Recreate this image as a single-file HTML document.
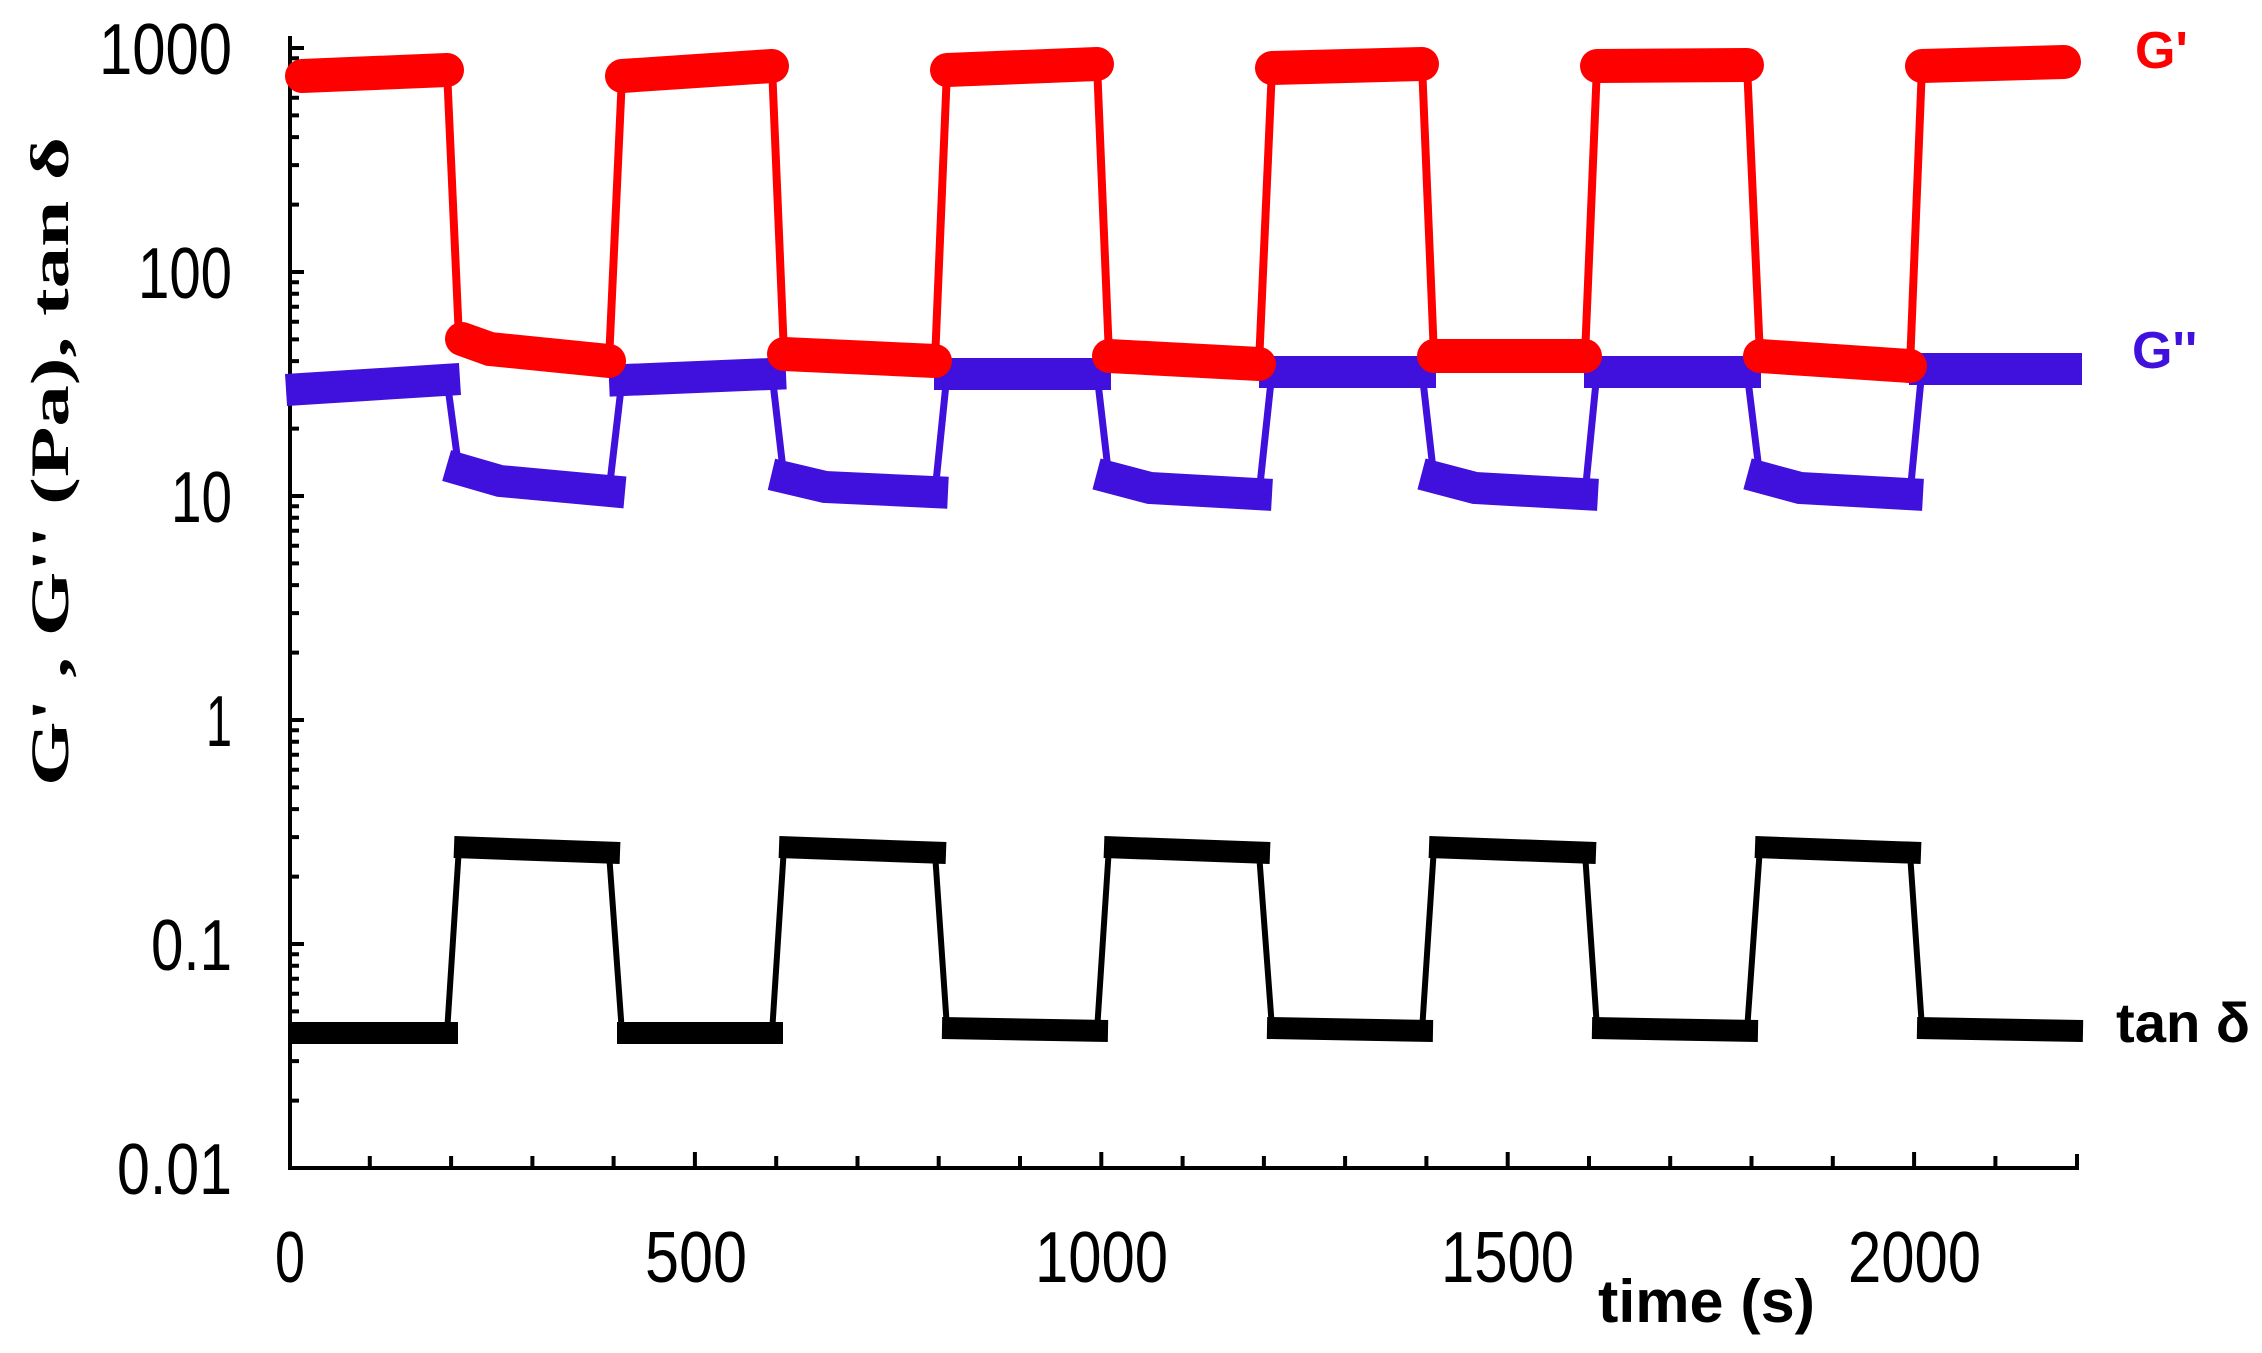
<!DOCTYPE html>
<html><head><meta charset="utf-8"><style>html,body{margin:0;padding:0;background:#fff}svg{display:block}</style></head>
<body>
<svg width="2262" height="1353" viewBox="0 0 2262 1353" xmlns="http://www.w3.org/2000/svg">
<rect width="2262" height="1353" fill="#fff"/>
<g stroke="#000" stroke-width="4" fill="none">
<path d="M290 36 V1168 H2077 V1154"/>
<path d="M369.8 1168v-12M451.1 1168v-12M532.4 1168v-12M613.6 1168v-12M694.9 1168v-16M776.2 1168v-12M857.5 1168v-12M938.7 1168v-12M1020 1168v-12M1101.3 1168v-16M1182.6 1168v-12M1263.9 1168v-12M1345.1 1168v-12M1426.4 1168v-12M1507.7 1168v-16M1589 1168v-12M1670.2 1168v-12M1751.5 1168v-12M1832.8 1168v-12M1914.1 1168v-16M1995.4 1168v-12"/>
<path d="M290 48h14M290 272h14M290 496h14M290 720h14M290 944h14"/>
<path d="M290 1100.6h9M290 1061.1h9M290 1033.1h9M290 1011.4h9M290 993.7h9M290 978.7h9M290 965.7h9M290 954.2h9
M290 876.6h9M290 837.1h9M290 809.1h9M290 787.4h9M290 769.7h9M290 754.7h9M290 741.7h9M290 730.2h9
M290 652.6h9M290 613.1h9M290 585.1h9M290 563.4h9M290 545.7h9M290 530.7h9M290 517.7h9M290 506.2h9
M290 428.6h9M290 389.1h9M290 361.1h9M290 339.4h9M290 321.7h9M290 306.7h9M290 293.7h9M290 282.2h9
M290 204.6h9M290 165.1h9M290 137.1h9M290 115.4h9M290 97.7h9M290 82.7h9M290 69.7h9M290 58.2h9"/>
</g>
<g font-family="Liberation Sans, sans-serif" font-size="72" fill="#000" lengthAdjust="spacingAndGlyphs">
<text x="99" y="74" textLength="133" lengthAdjust="spacingAndGlyphs">1000</text>
<text x="138" y="298" textLength="94" lengthAdjust="spacingAndGlyphs">100</text>
<text x="171" y="522" textLength="61" lengthAdjust="spacingAndGlyphs">10</text>
<text x="206" y="746" textLength="26" lengthAdjust="spacingAndGlyphs">1</text>
<text x="151" y="970" textLength="81" lengthAdjust="spacingAndGlyphs">0.1</text>
<text x="117" y="1194" textLength="115" lengthAdjust="spacingAndGlyphs">0.01</text>
<text x="275" y="1282" textLength="30" lengthAdjust="spacingAndGlyphs">0</text>
<text x="645" y="1282" textLength="102" lengthAdjust="spacingAndGlyphs">500</text>
<text x="1035" y="1282" textLength="133" lengthAdjust="spacingAndGlyphs">1000</text>
<text x="1441" y="1282" textLength="133" lengthAdjust="spacingAndGlyphs">1500</text>
<text x="1848" y="1282" textLength="133" lengthAdjust="spacingAndGlyphs">2000</text>
</g>
<text x="1598" y="1322" font-family="Liberation Sans, sans-serif" font-weight="bold" font-size="60" textLength="217" lengthAdjust="spacingAndGlyphs">time (s)</text>
<text transform="translate(68,786) rotate(-90)" font-family="Liberation Serif, serif" font-weight="bold" font-size="54" textLength="649" lengthAdjust="spacingAndGlyphs">G' , G'' (Pa), tan δ</text>
<text x="2135" y="68" font-family="Liberation Sans, sans-serif" font-weight="bold" font-size="52" fill="#ff0000">G'</text>
<text x="2132" y="368" font-family="Liberation Sans, sans-serif" font-weight="bold" font-size="52" fill="#4010dc">G''</text>
<text x="2116" y="1042" font-family="Liberation Sans, sans-serif" font-weight="bold" font-size="56" textLength="134" lengthAdjust="spacingAndGlyphs">tan δ</text>

<g stroke="#000" fill="none">
<path stroke-width="6" d="M296 1033 L447 1033 L459 847 L609 853 L622 1033 L772 1033 L784 847 L935 853 L947 1028 L1097 1031 L1109 847 L1259 853 L1272 1028 L1422 1031 L1434 847 L1585 853 L1597 1028 L1747 1031 L1760 847 L1910 853 L1922 1028 L2070 1031"/>
<path stroke-width="22" d="M292 1033H458M454 847L620 853M617 1033H783M779 847L946 853M942 1028L1108 1031M1104 847L1270 853M1267 1028L1433 1031M1429 847L1596 853M1592 1028L1758 1031M1755 847L1921 853M1917 1028L2083 1031"/>
</g>
<g stroke="#4010dc" fill="none">
<path stroke-width="7" d="M298 389 L447 380 L459 470 L609 491 L622 380 L772 374 L784 478 L935 492 L947 374 L1097 374 L1109 478 L1259 494 L1272 372 L1422 372 L1434 478 L1585 494 L1597 372 L1747 372 L1760 478 L1910 494 L1922 369 L2066 369"/>
<path stroke-width="32" stroke-linecap="square" d="M302 389L444 380M462 470L500 481L609 491M625 380L770 374M787 478L825 487L932 492M950 374L1095 374M1112 478L1150 488L1256 494M1275 372L1420 372M1437 478L1475 488L1582 494M1600 372L1745 372M1763 478L1800 488L1907 494M1925 369L2066 369"/>
</g>
<g stroke="#ff0000" fill="none" stroke-linecap="round">
<path stroke-width="8" d="M302 76 L447 70 L459 339 L609 361 L622 76 L772 66 L784 354 L935 361 L947 70 L1097 64 L1109 356 L1259 364 L1272 68 L1422 64 L1434 356 L1585 356 L1597 66 L1747 65 L1760 356 L1910 366 L1922 66 L2064 62"/>
<path stroke-width="34" d="M302 76L447 70M462 339L490 349L609 361M622 76L772 66M784 354L935 361M947 70L1097 64M1109 356L1259 364M1272 68L1422 64M1434 356L1585 356M1597 66L1747 65M1760 356L1910 366M1922 66L2064 62"/>
</g>
</svg>
</body></html>
